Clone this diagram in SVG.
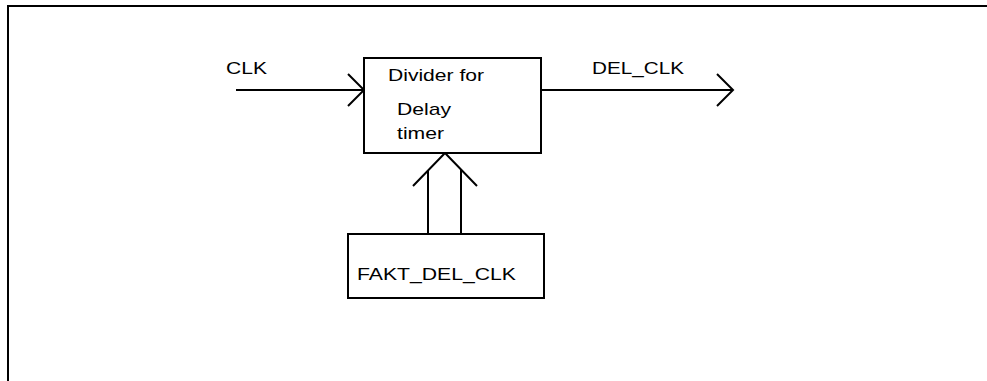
<svg xmlns="http://www.w3.org/2000/svg" width="987" height="381" viewBox="0 0 987 381">
<style>
.ln{fill:none;stroke:#000;stroke-width:2}
.box{fill:#fff;stroke:#000;stroke-width:2}
.t{font-family:"Liberation Sans",Arial,sans-serif;font-size:17px;fill:#000}
</style>
<defs>
<marker id="chev" markerUnits="userSpaceOnUse" viewBox="-18 -18 20 36" refX="0" refY="0" markerWidth="20" markerHeight="36" orient="auto" overflow="visible">
<path d="M-16,-16 L0,0 L-16,16" fill="none" stroke="#000" stroke-width="2"/>
</marker>
</defs>
<rect width="987" height="381" fill="#fff"/>
<path class="ln" d="M8,381 V6 H987"/>
<g id="connectors">
<line class="ln" x1="236" y1="90" x2="364" y2="90" marker-end="url(#chev)"/>
<line class="ln" x1="541" y1="90" x2="733" y2="90" marker-end="url(#chev)"/>
<polyline class="ln" points="413,186 445,153 477,186"/>
<line class="ln" x1="428" y1="170" x2="428" y2="234"/>
<line class="ln" x1="461" y1="170" x2="461" y2="234"/>
<text class="t" x="226" y="74" textLength="41" lengthAdjust="spacingAndGlyphs">CLK</text>
<text class="t" x="592" y="74" textLength="92" lengthAdjust="spacingAndGlyphs">DEL_CLK</text>
</g>
<g id="divider">
<rect class="box" x="364" y="58" width="177" height="95"/>
<text class="t" x="388" y="81" textLength="96" lengthAdjust="spacingAndGlyphs">Divider for</text>
<text class="t" x="397" y="115" textLength="54" lengthAdjust="spacingAndGlyphs">Delay</text>
<text class="t" x="397" y="139" textLength="47" lengthAdjust="spacingAndGlyphs">timer</text>
</g>
<g id="fakt">
<rect class="box" x="348" y="234" width="196" height="64"/>
<text class="t" x="357" y="280" textLength="159" lengthAdjust="spacingAndGlyphs">FAKT_DEL_CLK</text>
</g>
</svg>
